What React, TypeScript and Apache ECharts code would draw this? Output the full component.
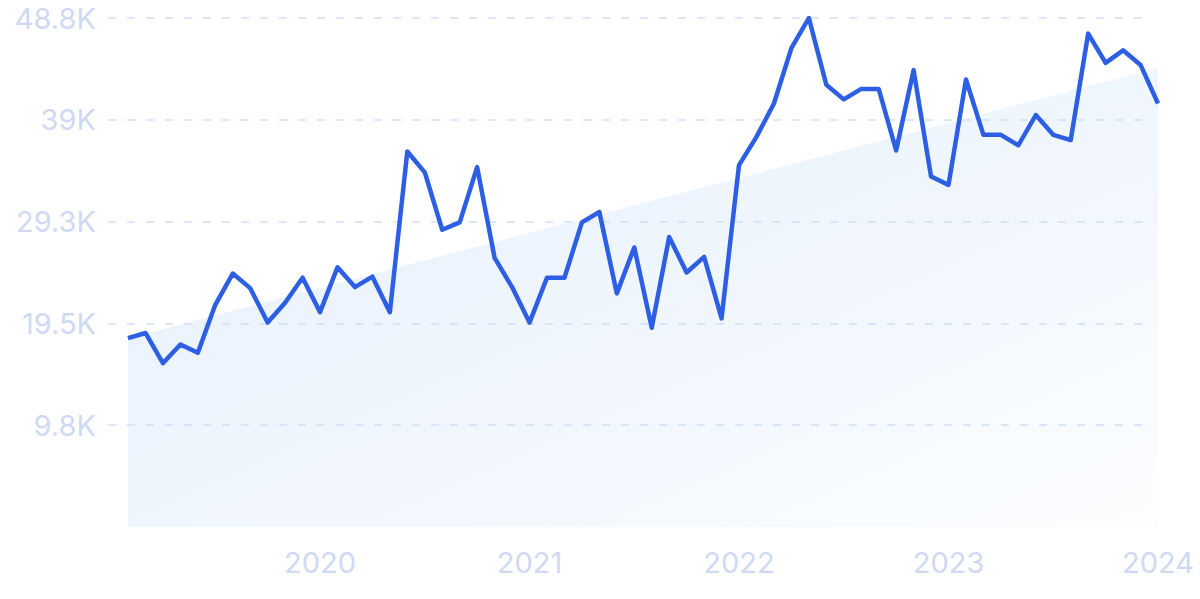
import React, { useEffect, useRef } from "react";
import * as echarts from "echarts";

const months: string[] = [
  "2019-02","2019-03","2019-04","2019-05","2019-06","2019-07","2019-08","2019-09","2019-10","2019-11","2019-12",
  "2020-01","2020-02","2020-03","2020-04","2020-05","2020-06","2020-07","2020-08","2020-09","2020-10","2020-11","2020-12",
  "2021-01","2021-02","2021-03","2021-04","2021-05","2021-06","2021-07","2021-08","2021-09","2021-10","2021-11","2021-12",
  "2022-01","2022-02","2022-03","2022-04","2022-05","2022-06","2022-07","2022-08","2022-09","2022-10","2022-11","2022-12",
  "2023-01","2023-02","2023-03","2023-04","2023-05","2023-06","2023-07","2023-08","2023-09","2023-10","2023-11","2023-12",
  "2024-01",
];

const values: number[] = [
  18100, 18600, 15700, 17500, 16700, 21300, 24300, 22900, 19600, 21500,
  23900, 20600, 24900, 23000, 24000, 20600, 36000, 34000, 28500, 29200,
  34500, 25800, 23000, 19600, 23900, 23900, 29200, 30200, 22400, 26800,
  19100, 27800, 24400, 25900, 20000, 34700, 37400, 40600, 45900, 48800,
  42400, 41000, 42000, 42000, 36100, 43800, 33600, 32800, 42900, 37600,
  37600, 36600, 39500, 37600, 37100, 47300, 44500, 45700, 44300, 40600,
];

// trend line end points (first month index, last month index)
const trendPoints: [number, number][] = [
  [0, 18100],
  [59, 44000],
];

const yMax = 48800;
const yInterval = 9760;

const labelColor = "#cfd9f4";
const font = "Inter, 'Noto Sans', sans-serif";

export default function App() {
  const ref = useRef<HTMLDivElement>(null);

  useEffect(() => {
    if (!ref.current) return;
    const chart = echarts.init(ref.current, undefined, { renderer: "svg" });
    const fmt = (v: number) => {
      if (v === 0) return "";
      const s = (v / 1000).toFixed(1).replace(/\.0$/, "");
      return s + "K";
    };
    chart.setOption({
      animation: false,
      backgroundColor: "#ffffff",
      grid: [
        { left: 128, right: 42, top: 18, bottom: 72 },
        { left: 108, right: 53, top: 18, bottom: 72 },
      ],
      xAxis: [
        {
          type: "category",
          gridIndex: 0,
          data: months,
          boundaryGap: false,
          axisLine: { show: false },
          axisTick: { show: false },
          splitLine: { show: false },
          axisLabel: {
            interval: (idx: number, val: string) => val.endsWith("-01"),
            formatter: (val: string) => val.slice(0, 4),
            color: labelColor,
            fontSize: 29,
            fontFamily: font,
            margin: 21,
          },
        },
        { type: "value", gridIndex: 0, min: 0, max: 59, show: false },
        { type: "value", gridIndex: 1, min: 0, max: 1, show: false },
      ],
      yAxis: [
        { type: "value", gridIndex: 0, min: 0, max: yMax, interval: yInterval, show: false },
        {
          type: "value",
          gridIndex: 1,
          min: 0,
          max: yMax,
          interval: yInterval,
          axisLine: { show: false },
          axisTick: { show: false },
          axisLabel: {
            formatter: fmt,
            color: labelColor,
            fontSize: 29,
            fontFamily: font,
            margin: 12,
          },
          splitLine: {
            show: true,
            showMinLine: false,
            lineStyle: { color: "#cfe1fb", width: 1.5, type: [8, 11] },
          },
        },
      ],
      series: [
        {
          type: "line",
          xAxisIndex: 1,
          yAxisIndex: 0,
          data: trendPoints,
          symbol: "none",
          silent: true,
          lineStyle: { width: 0, opacity: 0 },
          areaStyle: {
            color: new echarts.graphic.LinearGradient(0, 0, 1, 1, [
              { offset: 0, color: "rgba(198,221,250,0.68)" },
              { offset: 1, color: "rgba(198,221,250,0.08)" },
            ]),
          },
          z: 1,
        },
        {
          type: "line",
          xAxisIndex: 0,
          yAxisIndex: 0,
          data: values,
          symbol: "none",
          lineStyle: { color: "#2d5fe4", width: 4.5, join: "round" },
          z: 3,
        },
      ],
    });
    return () => chart.dispose();
  }, []);

  return (
    <div
      ref={ref}
      style={{ position: "fixed", left: 0, top: 0, width: 1200, height: 599 }}
    />
  );
}
